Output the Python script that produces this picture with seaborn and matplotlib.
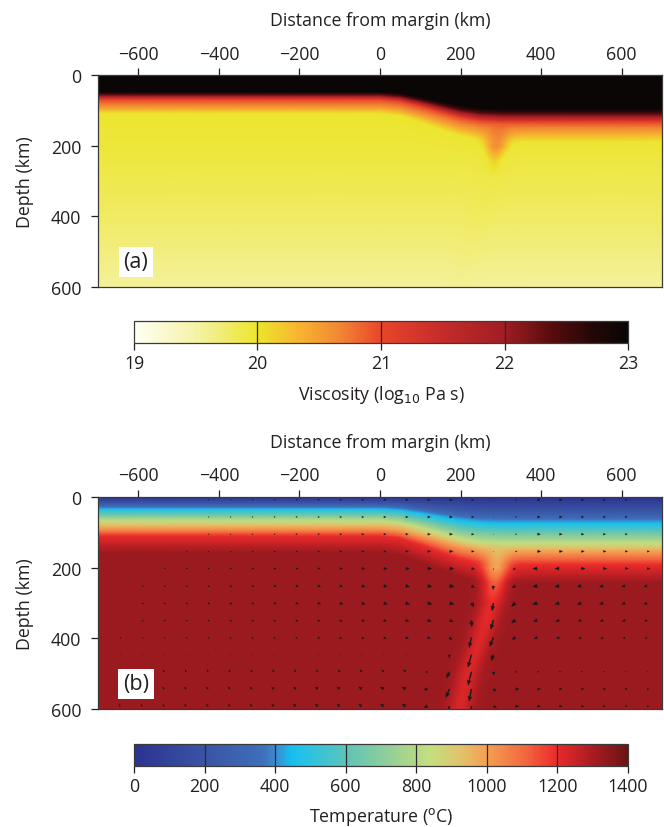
import numpy as np
import matplotlib
matplotlib.use("Agg")
import matplotlib.pyplot as plt
import seaborn as sns
from matplotlib.colors import LinearSegmentedColormap, Normalize

sns.set_theme(style="ticks")
plt.rcParams["font.family"] = ["Open Sans", "DejaVu Sans"]
plt.rcParams["text.color"] = "#231f20"
plt.rcParams["axes.labelcolor"] = "#231f20"
plt.rcParams["xtick.color"] = "#231f20"
plt.rcParams["ytick.color"] = "#231f20"

# ---------------- model description ----------------
distance_ticks = [-600, -400, -200, 0, 200, 400, 600]
depth_ticks = [0, 200, 400, 600]
viscosity_ticks = [19, 20, 21, 22, 23]
temperature_ticks = [0, 200, 400, 600, 800, 1000, 1200, 1400]

# Isotherm depths (km) beneath the thin western plate and the thick eastern plate
isotherm_T = [0, 250, 450, 650, 850, 1000, 1200, 1320]
isotherm_depth_west = [0, 21, 35, 52, 70, 90, 112, 160]
isotherm_depth_east = [0, 47, 75, 104, 134, 156, 194, 245]
mantle_T = 1320

# How far each column has moved from the western to the eastern structure
blend_x = [-700, 0, 50, 100, 150, 200, 250, 300, 700]
blend_w = [0, 0, 0.08, 0.3, 0.55, 0.8, 0.95, 1, 1]

# Cold drip hanging below the step in plate thickness
drip_depth = [140, 200, 250, 300, 400, 500, 600]
drip_center = [292, 288, 284, 278, 250, 218, 198]
drip_cooling = [0, 240, 190, 120, 100, 95, 95]
drip_speed = [0.0, 0.1, 0.3, 0.6, 0.9, 1.0, 1.0]

# Temperature-dependent viscosity law and a mild decrease with depth
visc_T = [0, 600, 700, 860, 1040, 1180, 1320]
visc_log = [23.0, 23.0, 22.4, 21.0, 20.5, 20.03, 20.0]
visc_depth = [0, 200, 400, 600]
visc_depth_shift = [0.0, -0.05, -0.22, -0.45]

# Horizontal flow: plate motion, inflow toward the drip and deep return flow
inflow_depth = [0, 140, 200, 300, 400, 440, 520, 600]
inflow_speed = [0.3, 0.3, 0.42, 0.45, 0.3, 0.1, -0.35, -0.35]
sink_depth = [0, 220, 260, 420, 460, 600]
sink_speed = [0.0, 0.0, -0.1, -0.1, 0.18, 0.16]
# Western limit of the sampled flow at each depth
arrow_edge_depth = [0, 110, 155, 205, 255, 355, 405, 600]
arrow_edge_x = [-440, -440, -490, -545, -600, -600, -655, -700]

# ---------------- build the fields ----------------
x = np.arange(-700, 701, 5.0)
z = np.arange(0, 601, 4.0)
X, Z = np.meshgrid(x, z)

w_col = np.interp(x, blend_x, blend_w)
T = np.empty_like(X)
for j, wj in enumerate(w_col):
    d_iso = (1 - wj) * np.array(isotherm_depth_west) + wj * np.array(isotherm_depth_east)
    T[:, j] = np.interp(z, d_iso, isotherm_T, right=mantle_T)

xc = np.interp(Z, drip_depth, drip_center)
cool = np.interp(Z, drip_depth, drip_cooling)
T = T - cool * np.exp(-((X - xc) / 30.0) ** 2)

visc = np.interp(T, visc_T, visc_log) + np.interp(Z, visc_depth, visc_depth_shift)

# Velocity sampled on a coarse grid
ax_pts = np.linspace(-645, 663, 25)
az_pts = np.linspace(8, 592, 13)
QX, QZ = np.meshgrid(ax_pts, az_pts)
qc = np.interp(QZ, drip_depth, drip_center)
tilt = np.interp(QZ, drip_depth, np.gradient(drip_center, drip_depth))
g = np.exp(-((QX - qc) / 55.0) ** 2)
w_down = np.interp(QZ, drip_depth, drip_speed, left=0.0) * g
base = np.interp(QZ, inflow_depth, inflow_speed)
toward = np.where(QZ < 180, 1.0, np.sign(qc - QX))
toward = np.where((QZ < 230) & (QX > 480), 1.0, toward)
U = base * np.exp(-np.abs(QX - qc) / 700.0) * toward
U = U * (1 - g) + tilt * w_down
W = -w_down + np.interp(QZ, sink_depth, sink_speed) * (1 - g) * np.where(
    QZ > 440, (QX < 100).astype(float), 1.0)
edge = np.interp(QZ, arrow_edge_depth, arrow_edge_x)
keep = (QX >= edge) & ~((QZ < 130) & (QX > 640))

# ---------------- colour maps ----------------
visc_cmap = LinearSegmentedColormap.from_list("viscosity", [
    (0.000, "#fffff4"), (0.125, "#f5f2a6"), (0.250, "#ece52c"),
    (0.330, "#f8b630"), (0.420, "#f18534"), (0.500, "#e9452a"),
    (0.620, "#c62c2a"), (0.750, "#a01d23"), (0.850, "#560b0d"),
    (0.930, "#230707"), (1.000, "#0a0606")])
temp_cmap = LinearSegmentedColormap.from_list("temperature", [
    (0.000, "#2c3290"), (0.143, "#3a54a5"), (0.260, "#3d6fba"),
    (0.285, "#3a8bd0"), (0.320, "#15c0f0"), (0.360, "#30c3dd"),
    (0.429, "#5cc4b9"), (0.520, "#96cf95"), (0.600, "#c5de80"),
    (0.660, "#e0c46c"), (0.714, "#f69f52"), (0.790, "#f26a40"),
    (0.857, "#ec2a2b"), (0.930, "#a81c22"), (1.000, "#6b1414")])

# ---------------- figure ----------------
fig = plt.figure(figsize=(6.64, 8.28), dpi=100)
ax_a = fig.add_axes([0.1476, 0.6522, 0.8494, 0.2560])
ax_b = fig.add_axes([0.1476, 0.1425, 0.8494, 0.2561])
cax_a = fig.add_axes([0.2018, 0.5845, 0.7440, 0.0266])
cax_b = fig.add_axes([0.2018, 0.0737, 0.7440, 0.0266])

m_a = ax_a.pcolormesh(x, z, visc, cmap=visc_cmap, norm=Normalize(19, 23),
                      shading="gouraud", rasterized=True)
m_b = ax_b.pcolormesh(x, z, T, cmap=temp_cmap, norm=Normalize(0, 1400),
                      shading="gouraud", rasterized=True)
ax_b.quiver(QX[keep], QZ[keep], U[keep], W[keep], angles="uv",
            units="width", scale=40, width=0.0026, headwidth=3.2,
            headlength=3.8, headaxislength=3.4, minlength=0.5,
            color="#1a1a1a", zorder=3)

for ax, tag in ((ax_a, "(a)"), (ax_b, "(b)")):
    ax.set_xlim(-700, 700)
    ax.set_ylim(600, 0)
    ax.set_xticks(distance_ticks)
    ax.set_xticklabels([f"{v:d}".replace("-", "\u2212") for v in distance_ticks])
    ax.set_yticks(depth_ticks)
    ax.xaxis.tick_top()
    ax.xaxis.set_label_position("top")
    ax.set_xlabel("Distance from margin (km)", fontsize=12.8, labelpad=14)
    ax.set_ylabel("Depth (km)", fontsize=12.8, labelpad=12)
    ax.tick_params(axis="both", labelsize=12.8, length=5, width=0.9,
                   direction="out", pad=4)
    ax.tick_params(axis="y", pad=7)
    for s in ax.spines.values():
        s.set_linewidth(0.9)
        s.set_color("#3a3a3a")
    ax.text(0.067, 0.118, tag, transform=ax.transAxes, ha="center", va="center",
            fontsize=15.5, zorder=5,
            bbox=dict(boxstyle="square,pad=0.22", fc="white", ec="none"))

for cax, mappable, ticks, label, lp in (
        (cax_a, m_a, viscosity_ticks, "Viscosity (log$_{10}$ Pa s)", 8),
        (cax_b, m_b, temperature_ticks, "Temperature ($^{\\mathrm{o}}$C)", 7)):
    cb = fig.colorbar(mappable, cax=cax, orientation="horizontal", ticks=ticks)
    cb.outline.set_linewidth(0.9)
    cb.outline.set_edgecolor("#3a3a3a")
    for v in ticks[1:-1]:
        cax.axvline(v, color="#2a2a2a", lw=0.9)
    cax.tick_params(labelsize=12.8, length=5, width=0.9, pad=3)
    cb.set_label(label, fontsize=12.8, labelpad=lp)

fig.savefig("out.png", dpi=100)
